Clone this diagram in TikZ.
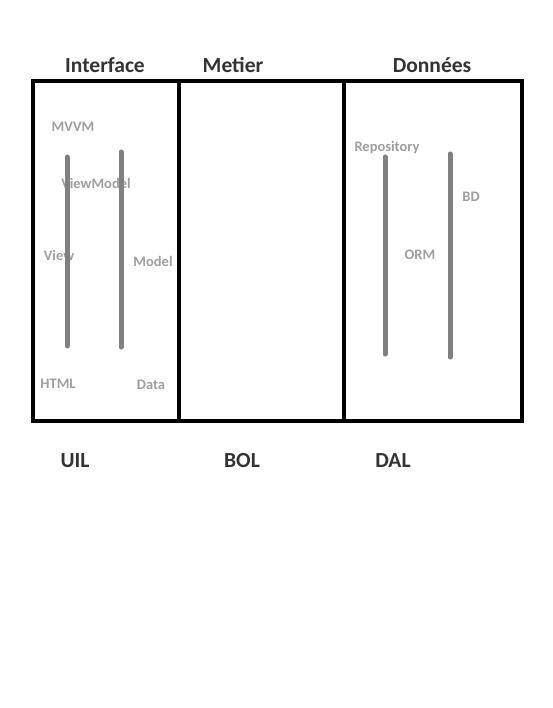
\documentclass[tikz,border=0pt]{standalone}
\usepackage{fontspec}
\setmainfont{Carlito}
\usepackage{tikz}
\usetikzlibrary{positioning}
\usepackage{xcolor}
\definecolor{headgray}{HTML}{333333}
\definecolor{labgray}{HTML}{9E9E9E}
\definecolor{bargray}{HTML}{808080}

\begin{document}
\begin{tikzpicture}[x=1pt,y=-1pt,
    head/.style={font=\fontsize{21.5}{24}\selectfont\bfseries,text=headgray},
    lab/.style={font=\fontsize{14.5}{16}\selectfont\bfseries,text=labgray},
    bar/.style={bargray,line width=5pt,line cap=round}]
  \useasboundingbox (0,0) rectangle (553,708);

  %% frame and layers
  \draw[line width=4pt] (33,81) rectangle (522,421);
  \draw[line width=4pt] (179,81) -- (179,421);
  \draw[line width=4pt] (344,81) -- (344,421);

  %% layer titles
  \node[head] (interface) at (105,65) {Interface};
  \node[head] (metier) at (233,65) {Metier};
  \node[head] (donnees) at (432,65) {Données};
  \node[head] (uil) at (75,461) {UIL};
  \node[head] (bol) at (242,461) {BOL};
  \node[head] (dal) at (393,461) {DAL};

  %% interface side
  \node[lab] (mvvm) at (73,127) {MVVM};
  \node[lab] (viewmodel) at (96,183) {ViewModel};
  \node[lab] (view) at (59,255) {View};
  \node[lab] (model) at (153,261) {Model};
  \node[lab] (html) at (58,384) {HTML};
  \node[lab] (data) at (151,385) {Data};
  \draw[bar] (67,157) -- (67,346);
  \draw[bar] (121,152) -- (121,347);

  %% data side
  \node[lab] (repo) at (387,148) {Repository};
  \node[lab] (bd) at (471,197) {BD};
  \node[lab] (orm) at (420,255) {ORM};
  \draw[bar] (385,157) -- (385,354);
  \draw[bar] (450,154) -- (450,357);
\end{tikzpicture}
\end{document}
